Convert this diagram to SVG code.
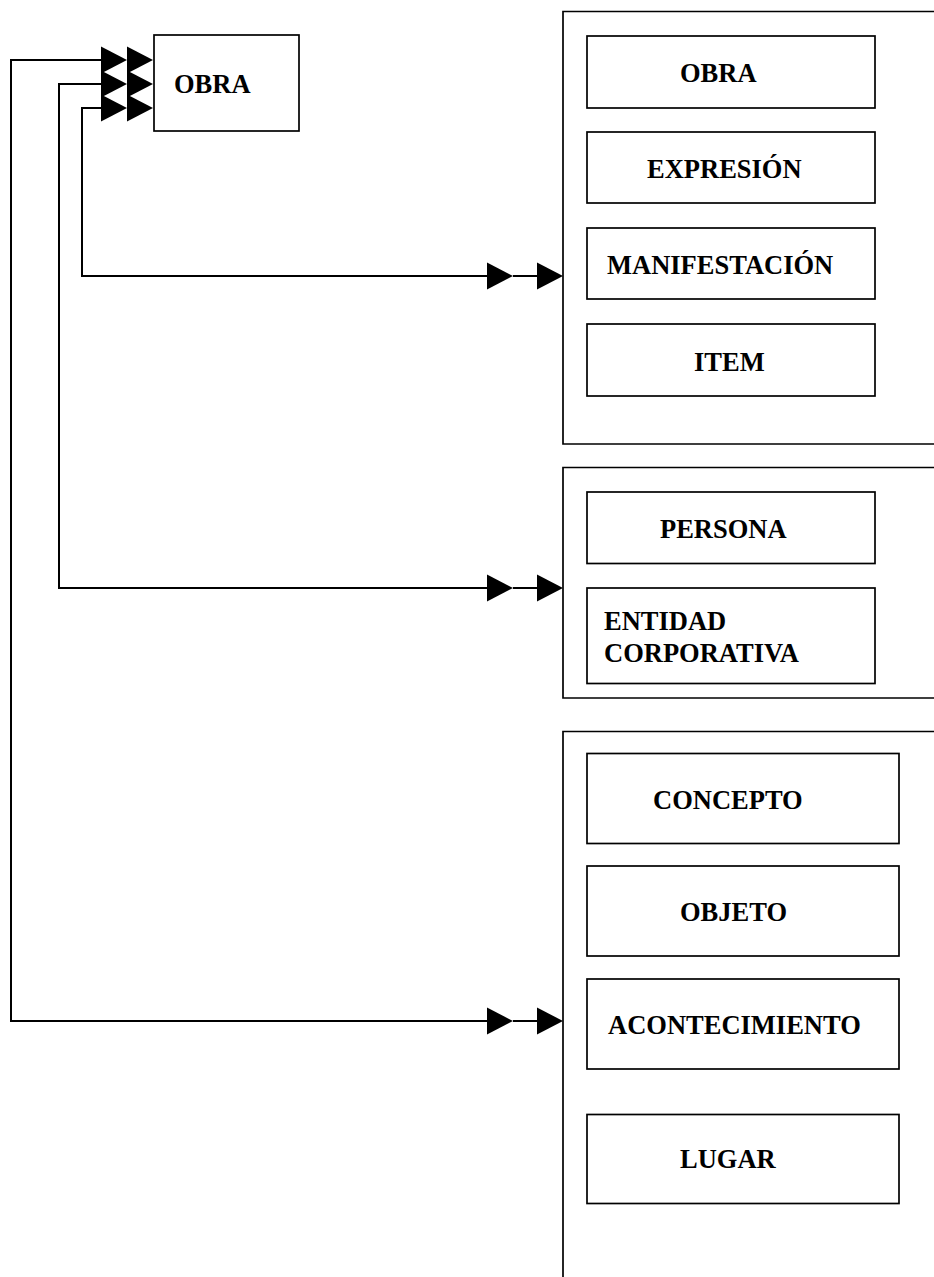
<svg xmlns="http://www.w3.org/2000/svg" xmlns:xlink="http://www.w3.org/1999/xlink" width="934" height="1277" viewBox="0 0 934 1277">
<style>
.box{fill:#fff;stroke:#000;stroke-width:1.7}
.grp{fill:none;stroke:#000;stroke-width:1.7}
.ln{fill:none;stroke:#000;stroke-width:2}
.lbl{font-family:"Liberation Serif","Times New Roman",serif;font-weight:bold;font-size:26.5px;fill:#000}
</style>
<defs>
<path id="tri" d="M0,-13.5 L26,0 L0,13.5 Z" fill="#000"/>
</defs>
<rect width="934" height="1277" fill="#fff"/>

<g id="connectors">
<path class="ln" d="M101,60 H11 V1021 H489"/>
<path class="ln" d="M101,84 H59 V588 H489"/>
<path class="ln" d="M101,108 H82 V276 H489"/>
<path class="ln" d="M513,1021 H538 M513,588 H538 M513,276 H538"/>
<use xlink:href="#tri" x="101" y="60"/><use xlink:href="#tri" x="127" y="60"/>
<use xlink:href="#tri" x="101" y="84"/><use xlink:href="#tri" x="127" y="84"/>
<use xlink:href="#tri" x="101" y="108"/><use xlink:href="#tri" x="127" y="108"/>
<use xlink:href="#tri" x="487" y="276"/><use xlink:href="#tri" x="537" y="276"/>
<use xlink:href="#tri" x="487" y="588"/><use xlink:href="#tri" x="537" y="588"/>
<use xlink:href="#tri" x="487" y="1021"/><use xlink:href="#tri" x="537" y="1021"/>
</g>

<g id="obra-main">
<rect class="box" x="154" y="35" width="145" height="96"/>
<text class="lbl" x="174" y="93">OBRA</text>
</g>

<g id="group1">
<path class="grp" d="M940,11.5 H563 V444 H940"/>
<g id="g1-obra"><rect class="box" x="587" y="36" width="288" height="72"/><text class="lbl" x="680" y="82">OBRA</text></g>
<g id="g1-expresion"><rect class="box" x="587" y="132" width="288" height="71"/><text class="lbl" x="647" y="178">EXPRESIÓN</text></g>
<g id="g1-manifestacion"><rect class="box" x="587" y="228" width="288" height="71"/><text class="lbl" x="607" y="274">MANIFESTACIÓN</text></g>
<g id="g1-item"><rect class="box" x="587" y="324" width="288" height="72"/><text class="lbl" x="694" y="371">ITEM</text></g>
</g>

<g id="group2">
<path class="grp" d="M940,467.5 H563 V698 H940"/>
<g id="g2-persona"><rect class="box" x="587" y="492" width="288" height="71.5"/><text class="lbl" x="660" y="538">PERSONA</text></g>
<g id="g2-entidad"><rect class="box" x="587" y="588" width="288" height="95.5"/><text class="lbl" x="604" y="630">ENTIDAD</text><text class="lbl" x="604" y="662">CORPORATIVA</text></g>
</g>

<g id="group3">
<path class="grp" d="M940,731.5 H563 V1285"/>
<g id="g3-concepto"><rect class="box" x="587" y="753.5" width="312" height="90"/><text class="lbl" x="653" y="809">CONCEPTO</text></g>
<g id="g3-objeto"><rect class="box" x="587" y="866" width="312" height="90"/><text class="lbl" x="680" y="921">OBJETO</text></g>
<g id="g3-acontecimiento"><rect class="box" x="587" y="979" width="312" height="90"/><text class="lbl" x="608" y="1034">ACONTECIMIENTO</text></g>
<g id="g3-lugar"><rect class="box" x="587" y="1114.5" width="312" height="89"/><text class="lbl" x="680" y="1168">LUGAR</text></g>
</g>
</svg>
